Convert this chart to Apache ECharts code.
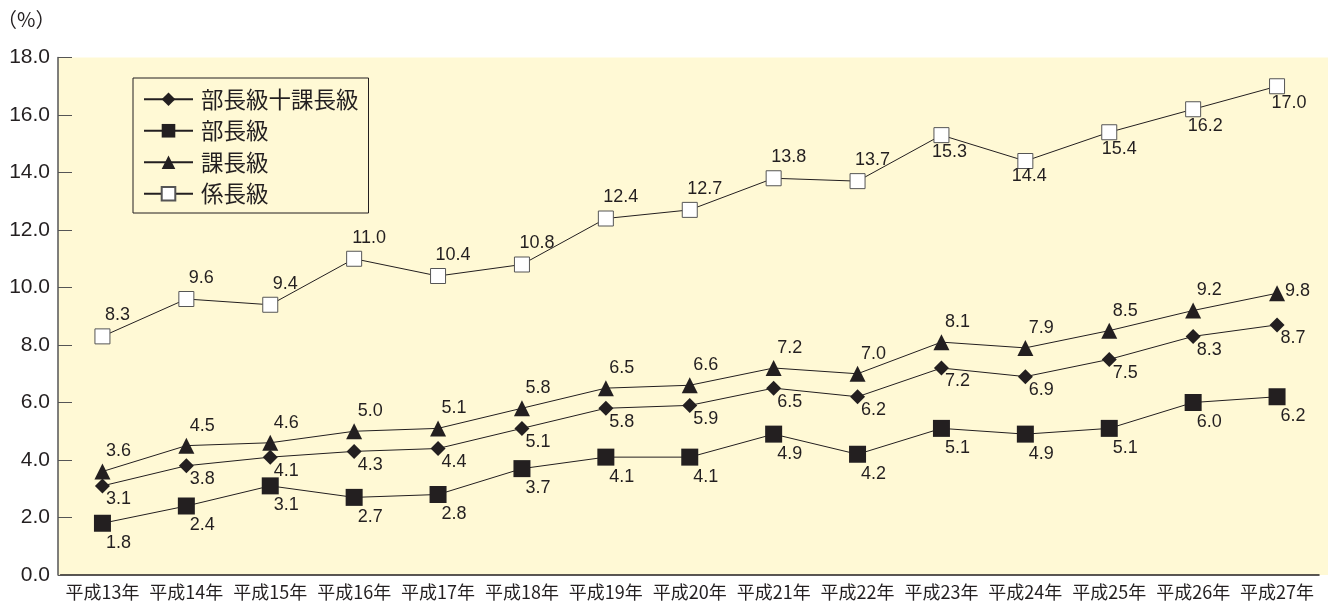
<!DOCTYPE html>
<html><head><meta charset="utf-8">
<script src="https://cdn.jsdelivr.net/npm/echarts@6/dist/echarts.min.js"></script>
<style>html,body{margin:0;padding:0;background:#fff}#c{width:1338px;height:607px}</style>
</head><body><div id="c"></div>
<script>
var categories = ['平成13年','平成14年','平成15年','平成16年','平成17年','平成18年','平成19年','平成20年','平成21年','平成22年','平成23年','平成24年','平成25年','平成26年','平成27年'];
var bucho_kacho = [3.1,3.8,4.1,4.3,4.4,5.1,5.8,5.9,6.5,6.2,7.2,6.9,7.5,8.3,8.7];
var bucho = [1.8,2.4,3.1,2.7,2.8,3.7,4.1,4.1,4.9,4.2,5.1,4.9,5.1,6.0,6.2];
var kacho = [3.6,4.5,4.6,5.0,5.1,5.8,6.5,6.6,7.2,7.0,8.1,7.9,8.5,9.2,9.8];
var kakaricho = [8.3,9.6,9.4,11.0,10.4,10.8,12.4,12.7,13.8,13.7,15.3,14.4,15.4,16.2,17.0];
var yTicks = [0,2,4,6,8,10,12,14,16,18];

var ink = '#231f20';
var font = '"Liberation Sans", Arial, "Noto Sans CJK JP", sans-serif';
var cjk = '"Noto Sans CJK JP", sans-serif';
function lbl(pos, dx, dy){
  return {show:true, position:pos, offset:[dx,dy], color:ink, fontSize:18, fontFamily:font, distance:2,
    formatter:function(p){return p.value.toFixed(1);}};
}
function items(vals, overrides){
  return vals.map(function(v,i){
    var o = {value:v};
    if (overrides && overrides[i]) o.label = overrides[i];
    return o;
  });
}
var kakarichoOv = {10:lbl('bottom',8,-2),11:lbl('bottom',4,-4),12:lbl('bottom',10,-2),13:lbl('bottom',12,-2),14:lbl('bottom',12,-2)};
var kachoOv = {14:lbl('right',-2,-2)};

var chart = echarts.init(document.getElementById('c'));
chart.setOption({
  animation:false,
  backgroundColor:'#fff',
  title:{text:'（%）', left:-8, top:4, textStyle:{color:ink, fontSize:20, fontWeight:'normal', fontFamily:cjk}},
  graphic:[{type:'rect', z:-10, silent:true, shape:{x:58, y:57.5, width:1270, height:517.5}, style:{fill:'#fff9d5'}}],
  grid:{left:60.5, right:19, top:57.5, bottom:32, show:false},
  legend:{
    orient:'vertical', left:133, top:78, padding:[10,10,8,10], itemGap:9,
    itemWidth:49, itemHeight:17, backgroundColor:'#fff9d5', borderColor:ink, borderWidth:1,
    textStyle:{color:ink, fontSize:22.5, fontFamily:cjk, padding:[0,0,0,3]},
    data:['部長級十課長級','部長級','課長級','係長級']
  },
  xAxis:{type:'category', data:categories, boundaryGap:true,
    axisLine:{lineStyle:{color:ink, width:1.5}},
    axisTick:{inside:true, length:10, lineStyle:{color:ink}},
    axisLabel:{color:ink, fontSize:18, fontFamily:cjk, margin:8, interval:0}
  },
  yAxis:{type:'value', min:0, max:18, interval:2, offset:2.5,
    axisLine:{show:true, lineStyle:{color:'#555', width:1.5}},
    axisTick:{show:true, inside:true, length:14, lineStyle:{color:'#555'}},
    splitLine:{show:false},
    axisLabel:{color:ink, fontSize:21, fontFamily:font, margin:8, formatter:function(v){return v.toFixed(1);}}
  },
  series:[
    {name:'部長級十課長級', type:'line', symbol:'diamond', symbolSize:15, data:items(bucho_kacho),
     lineStyle:{color:ink, width:1}, itemStyle:{color:ink}, label:lbl('bottom',16,-5)},
    {name:'部長級', type:'line', symbol:'rect', symbolSize:17, data:items(bucho),
     lineStyle:{color:ink, width:1}, itemStyle:{color:ink}, label:lbl('bottom',16,0)},
    {name:'課長級', type:'line', symbol:'triangle', symbolSize:16, data:items(kacho, kachoOv),
     lineStyle:{color:ink, width:1}, itemStyle:{color:ink}, label:lbl('top',16,-1)},
    {name:'係長級', type:'line', symbol:'rect', symbolSize:15, data:items(kakaricho, kakarichoOv),
     lineStyle:{color:ink, width:1}, itemStyle:{color:'#fff', borderColor:'#555', borderWidth:1}, label:lbl('top',15,-2)}
  ]
});
</script></body></html>
